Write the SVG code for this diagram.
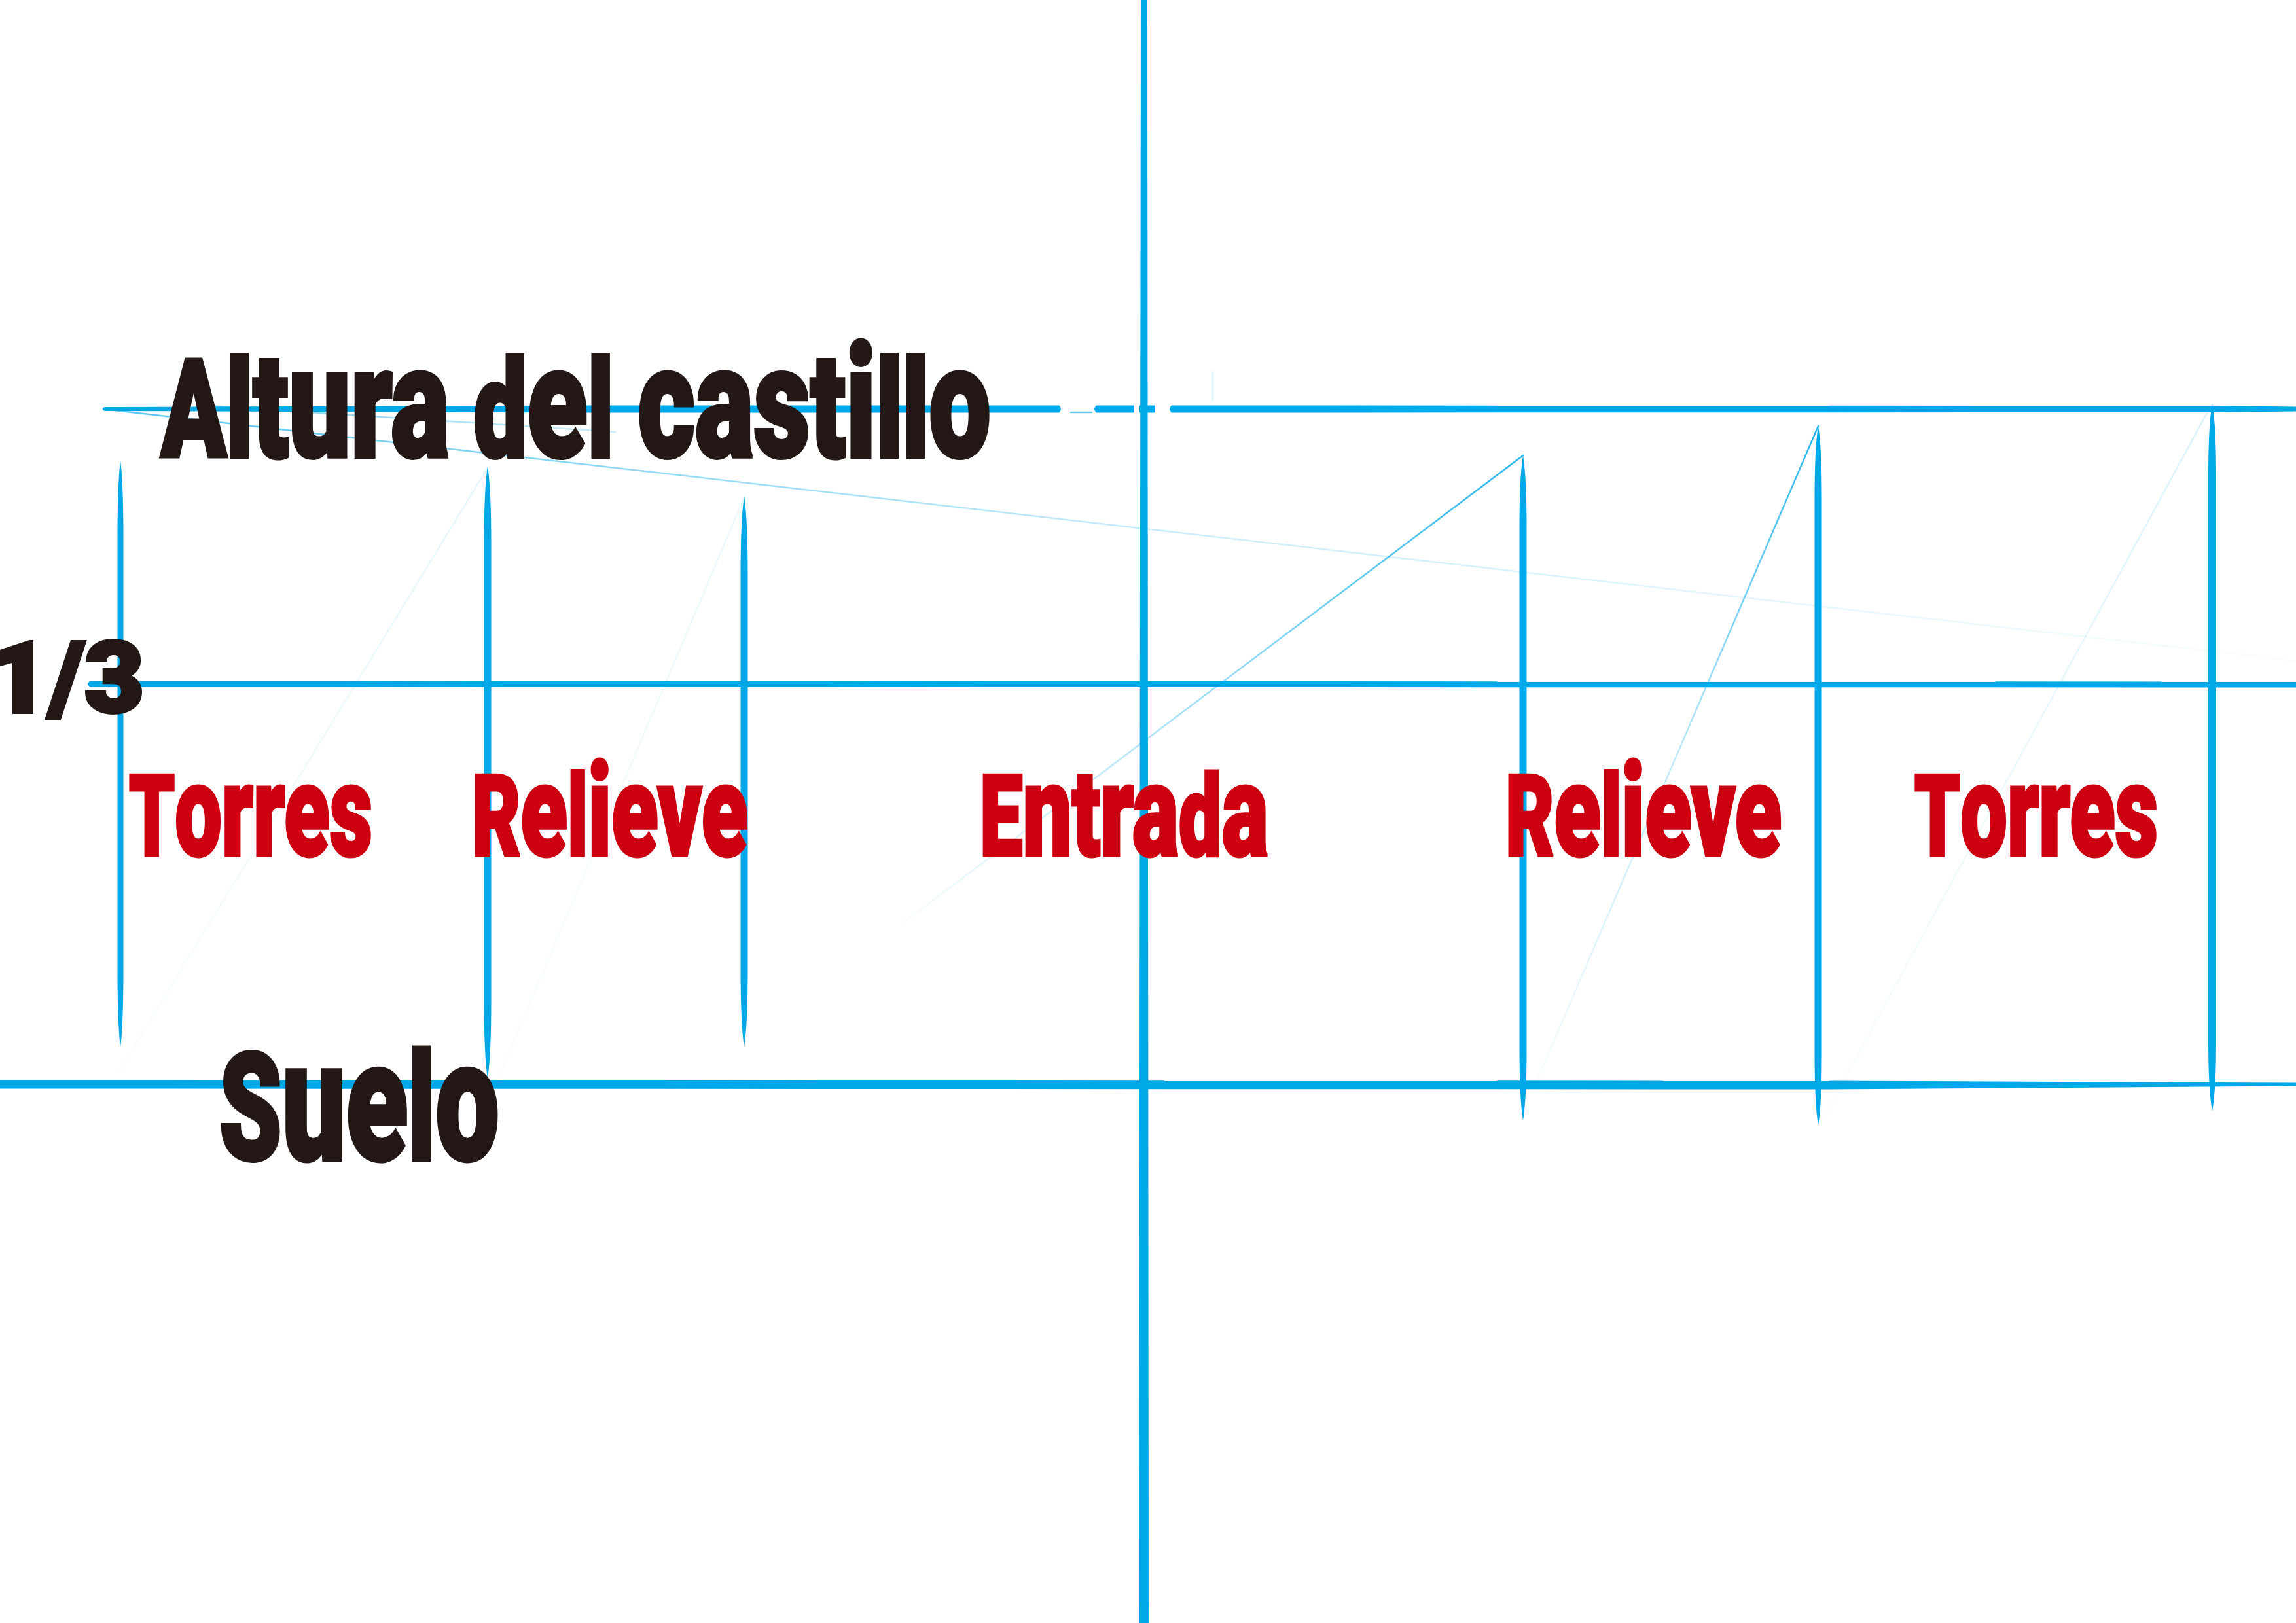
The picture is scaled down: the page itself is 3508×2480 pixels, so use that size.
<svg xmlns="http://www.w3.org/2000/svg" width="3508" height="2480" viewBox="0 0 3508 2480">
<style>
.blue{fill:#00a8e8}
.lbl{font-family:"Roboto","Liberation Sans Narrow","Liberation Sans",sans-serif;font-weight:900;stroke-linejoin:miter}
.blk{fill:#231815;stroke:#231815;stroke-width:6}
.red{fill:#cc0010;stroke:#cc0010;stroke-width:5}
.faint{fill:none;stroke-width:2.5;stroke-linecap:round}
</style>
<defs>
<linearGradient id="gD1" gradientUnits="userSpaceOnUse" x1="158" y1="625" x2="3508" y2="1010"><stop offset="0" stop-color="#00a8e8" stop-opacity="0.65"/><stop offset="0.5" stop-color="#00a8e8" stop-opacity="0.2"/><stop offset="1" stop-color="#00a8e8" stop-opacity="0.02"/></linearGradient>
<linearGradient id="gD1b" gradientUnits="userSpaceOnUse" x1="320" y1="620" x2="940" y2="660"><stop offset="0" stop-color="#00a8e8" stop-opacity="0.5"/><stop offset="1" stop-color="#00a8e8" stop-opacity="0.2"/></linearGradient>
<linearGradient id="gD2" gradientUnits="userSpaceOnUse" x1="2327" y1="696" x2="1380" y2="1410"><stop offset="0" stop-color="#00a8e8" stop-opacity="0.85"/><stop offset="0.6" stop-color="#00a8e8" stop-opacity="0.3"/><stop offset="1" stop-color="#00a8e8" stop-opacity="0.02"/></linearGradient>
<linearGradient id="gD3" gradientUnits="userSpaceOnUse" x1="2778" y1="651" x2="2340" y2="1670"><stop offset="0" stop-color="#00a8e8" stop-opacity="0.85"/><stop offset="0.5" stop-color="#00a8e8" stop-opacity="0.25"/><stop offset="1" stop-color="#00a8e8" stop-opacity="0.02"/></linearGradient>
<linearGradient id="gD4" gradientUnits="userSpaceOnUse" x1="3378" y1="620" x2="2785" y2="1710"><stop offset="0" stop-color="#00a8e8" stop-opacity="0.14"/><stop offset="1" stop-color="#00a8e8" stop-opacity="0.02"/></linearGradient>
<linearGradient id="gD5" gradientUnits="userSpaceOnUse" x1="745" y1="715" x2="180" y2="1640"><stop offset="0" stop-color="#00a8e8" stop-opacity="0.1"/><stop offset="1" stop-color="#00a8e8" stop-opacity="0.02"/></linearGradient>
<linearGradient id="gD6" gradientUnits="userSpaceOnUse" x1="1137" y1="760" x2="760" y2="1650"><stop offset="0" stop-color="#00a8e8" stop-opacity="0.08"/><stop offset="1" stop-color="#00a8e8" stop-opacity="0.02"/></linearGradient>
</defs>
<rect width="3508" height="2480" fill="#ffffff"/>
<g id="connectors">
<g id="guides">
<line class="faint" stroke="url(#gD1)" x1="158" y1="625" x2="3508" y2="1010"/>
<line class="faint" stroke="url(#gD1b)" stroke-width="2" x1="320" y1="620" x2="940" y2="660"/>
<line class="faint" stroke="url(#gD2)" x1="2327" y1="696" x2="1380" y2="1410"/>
<line class="faint" stroke="url(#gD3)" x1="2778" y1="651" x2="2340" y2="1670"/>
<line class="faint" stroke="url(#gD4)" x1="3378" y1="620" x2="2785" y2="1710"/>
<line class="faint" stroke="url(#gD5)" x1="745" y1="715" x2="180" y2="1640"/>
<line class="faint" stroke="url(#gD6)" x1="1137" y1="760" x2="760" y2="1650"/>
<line class="faint" stroke="#00a8e8" stroke-opacity="0.12" stroke-width="2" x1="1853" y1="568" x2="1853" y2="613"/>
<line class="faint" stroke="#00a8e8" stroke-opacity="0.6" stroke-width="2" x1="1636" y1="630" x2="1668" y2="630"/>
</g>
<g id="horizontals">
<path class="blue" d="M160,622 L900,619.5 L1618,619.5 Q1624,625 1618,630.5 L900,630.5 L160,628 Q153,625 160,622Z"/>
<path class="blue" d="M1675,619.5 L1733,619.5 L1733,630.5 L1675,630.5 Q1669,625 1675,619.5Z"/>
<path class="blue" d="M1741,619.5 L1765,619.5 L1765,630.5 L1741,630.5Z"/>
<path class="blue" d="M1790,619.5 L3380,620 L3508,621.5 L3508,628.5 L3380,630 L1790,630.5 Q1784,625 1790,619.5Z"/>
<path class="blue" d="M138,1040.5 L3508,1041.5 L3508,1050.5 L138,1049.5 Q130,1045 138,1040.5Z"/>
<path class="blue" d="M0,1650.5 L2780,1651.5 L3508,1654.5 L3508,1659.5 L2780,1664.5 L0,1663.5Z"/>
</g>
<g id="verticals">
<path class="blue" d="M1743,0 L1753,0 L1755,2480 L1740,2480Z"/>
<path class="blue" d="M184,704 Q188.5,740 188.5,824 L188.5,1480 Q188.5,1564 184,1600 Q179.5,1564 179.5,1480 L179.5,824 Q179.5,740 184,704Z"/>
<path class="blue" d="M745,712 Q750.5,748 750.5,832 L750.5,1528 Q750.5,1612 745,1648 Q739.5,1612 739.5,1528 L739.5,832 Q739.5,748 745,712Z"/>
<path class="blue" d="M1137,758 Q1142.5,794 1142.5,878 L1142.5,1480 Q1142.5,1564 1137,1600 Q1131.5,1564 1131.5,1480 L1131.5,878 Q1131.5,794 1137,758Z"/>
<path class="blue" d="M2327,696 Q2332.5,729 2332.5,806 L2332.5,1602 Q2332.5,1679 2327,1712 Q2321.5,1679 2321.5,1602 L2321.5,806 Q2321.5,729 2327,696Z"/>
<path class="blue" d="M2778,651 Q2783.5,684 2783.5,761 L2783.5,1610 Q2783.5,1687 2778,1720 Q2772.5,1687 2772.5,1610 L2772.5,761 Q2772.5,684 2778,651Z"/>
<path class="blue" d="M3380,617 Q3386,650 3386,727 L3386,1588 Q3386,1665 3380,1698 Q3374,1665 3374,1588 L3374,727 Q3374,650 3380,617Z"/>
</g>
</g>
<g id="label-altura"><text class="lbl blk" x="246" y="698" font-size="208" textLength="1268" lengthAdjust="spacingAndGlyphs">Al<tspan font-size="225">t</tspan><tspan font-size="239">ura</tspan> d<tspan font-size="239">e</tspan>l <tspan font-size="239">cas</tspan><tspan font-size="225">t</tspan><tspan font-size="239">i</tspan>ll<tspan font-size="239">o</tspan></text></g>
<g id="label-tercio"><text class="lbl blk" x="-16" y="1088" font-size="150" textLength="236" lengthAdjust="spacingAndGlyphs">1/3</text></g>
<g id="label-suelo"><text class="lbl blk" x="335" y="1772" font-size="228" textLength="428" lengthAdjust="spacingAndGlyphs">S<tspan font-size="259">ue</tspan>l<tspan font-size="259">o</tspan></text></g>
<g id="label-torres-izq"><text class="lbl red" x="197" y="1307" font-size="172" textLength="372" lengthAdjust="spacingAndGlyphs">T<tspan font-size="197">orres</tspan></text></g>
<g id="label-relieve-izq"><text class="lbl red" x="721" y="1307" font-size="172" textLength="422" lengthAdjust="spacingAndGlyphs">R<tspan font-size="197">e</tspan>l<tspan font-size="197">ieve</tspan></text></g>
<g id="label-entrada"><text class="lbl red" x="1497" y="1307" font-size="172" textLength="441" lengthAdjust="spacingAndGlyphs">E<tspan font-size="197">n</tspan><tspan font-size="185">t</tspan><tspan font-size="197">ra</tspan>d<tspan font-size="197">a</tspan></text></g>
<g id="label-relieve-der"><text class="lbl red" x="2300" y="1307" font-size="172" textLength="422" lengthAdjust="spacingAndGlyphs">R<tspan font-size="197">e</tspan>l<tspan font-size="197">ieve</tspan></text></g>
<g id="label-torres-der"><text class="lbl red" x="2925" y="1307" font-size="172" textLength="372" lengthAdjust="spacingAndGlyphs">T<tspan font-size="197">orres</tspan></text></g>
</svg>
